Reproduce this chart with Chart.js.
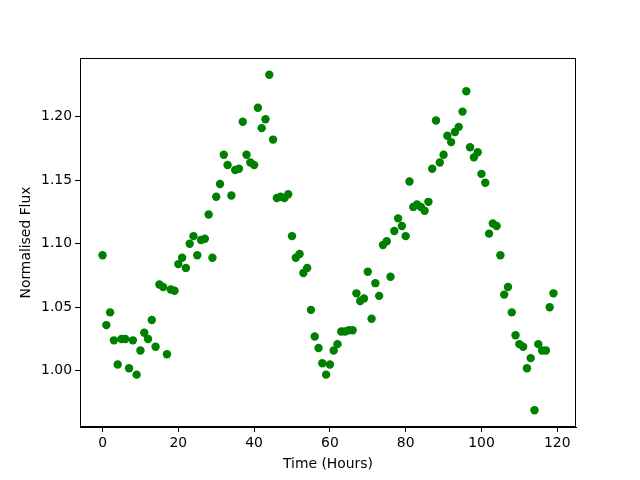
<!DOCTYPE html>
<html>
<head>
<meta charset="utf-8">
<script src="https://cdn.jsdelivr.net/npm/chart.js@4/dist/chart.umd.min.js"></script>
<style>
  html, body { margin: 0; padding: 0; background: #fff; }
  #wrap { width: 640px; height: 480px; }
</style>
</head>
<body>
<div id="wrap"><canvas id="c" width="640" height="480"></canvas></div>
<script>
const hours = [];
for (let i = 0; i < 120; i++) hours.push(i);
const flux = [
  1.091, 1.036, 1.046, 1.024, 1.005, 1.025, 1.025, 1.002, 1.024, 0.997,
  1.016, 1.030, 1.025, 1.040, 1.019, 1.068, 1.066, 1.013, 1.064, 1.063,
  1.084, 1.089, 1.081, 1.100, 1.106, 1.091, 1.103, 1.104, 1.123, 1.089,
  1.137, 1.147, 1.170, 1.162, 1.138, 1.158, 1.159, 1.196, 1.170, 1.164,
  1.162, 1.207, 1.191, 1.198, 1.233, 1.182, 1.136, 1.137, 1.136, 1.139,
  1.106, 1.089, 1.092, 1.077, 1.081, 1.048, 1.027, 1.018, 1.006, 0.997,
  1.005, 1.016, 1.021, 1.031, 1.031, 1.032, 1.032, 1.061, 1.055, 1.057,
  1.078, 1.041, 1.069, 1.059, 1.099, 1.102, 1.074, 1.110, 1.120, 1.114,
  1.106, 1.149, 1.129, 1.131, 1.129, 1.126, 1.133, 1.159, 1.197, 1.164,
  1.170, 1.185, 1.180, 1.188, 1.192, 1.204, 1.220, 1.176, 1.168, 1.172,
  1.155, 1.148, 1.108, 1.116, 1.114, 1.091, 1.060, 1.066, 1.046, 1.028,
  1.021, 1.019, 1.002, 1.010, 0.969, 1.021, 1.016, 1.016, 1.050, 1.061
];
const xTicks = [0, 20, 40, 60, 80, 100, 120];
const yTicks = [1.00, 1.05, 1.10, 1.15, 1.20];
const xLabel = 'Time (Hours)';
const yLabel = 'Normalised Flux';

const points = hours.map((h, i) => ({ x: h, y: flux[i] }));

const xmin = Math.min(...hours), xmax = Math.max(...hours);
const ymin = Math.min(...flux), ymax = Math.max(...flux);
const xm = (xmax - xmin) * 0.05, ym = (ymax - ymin) * 0.05;

const FONT = { family: 'DejaVu Sans', size: 13.9 };

const frame = {
  id: 'frame',
  afterDraw(chart) {
    const a = chart.chartArea, ctx = chart.ctx;
    ctx.save();
    ctx.strokeStyle = '#000';
    ctx.lineWidth = 1;
    ctx.strokeRect(Math.round(a.left) + 0.5, Math.round(a.top) + 0.5,
      Math.round(a.right - a.left) - 1, Math.round(a.bottom - a.top) - 1);
    ctx.restore();
  }
};

new Chart(document.getElementById('c'), {
  type: 'scatter',
  data: {
    datasets: [{
      data: points,
      backgroundColor: '#008000',
      borderColor: '#008000',
      borderWidth: 0,
      pointRadius: 4.2,
      pointHoverRadius: 4.2
    }]
  },
  options: {
    responsive: false,
    animation: false,
    devicePixelRatio: 1,
    layout: { padding: { left: 10, top: 58, right: 64, bottom: 0 } },
    plugins: { legend: { display: false }, tooltip: { enabled: false } },
    scales: {
      x: {
        type: 'linear',
        min: xmin - xm,
        max: xmax + xm,
        afterBuildTicks(s) { s.ticks = xTicks.map(v => ({ value: v })); },
        afterFit(s) { s.height = 53; },
        grid: { drawOnChartArea: false, drawTicks: true, tickLength: 5, color: '#000' },
        border: { display: true, color: '#000', width: 1 },
        ticks: { color: '#000', font: FONT, padding: 3, maxRotation: 0, callback: v => String(v) },
        title: { display: true, text: xLabel, color: '#000', font: FONT, padding: { top: 0, bottom: 7 } }
      },
      y: {
        type: 'linear',
        min: ymin - ym,
        max: ymax + ym,
        afterBuildTicks(s) { s.ticks = yTicks.map(v => ({ value: v })); },
        afterFit(s) { s.width = 70; },
        grid: { drawOnChartArea: false, drawTicks: true, tickLength: 5, color: '#000' },
        border: { display: true, color: '#000', width: 1 },
        ticks: { color: '#000', font: FONT, padding: 3, callback: v => v.toFixed(2) },
        title: { display: true, text: yLabel, color: '#000', font: FONT, padding: { top: 8, bottom: 0 } }
      }
    }
  },
  plugins: [frame]
});
</script>
</body>
</html>
